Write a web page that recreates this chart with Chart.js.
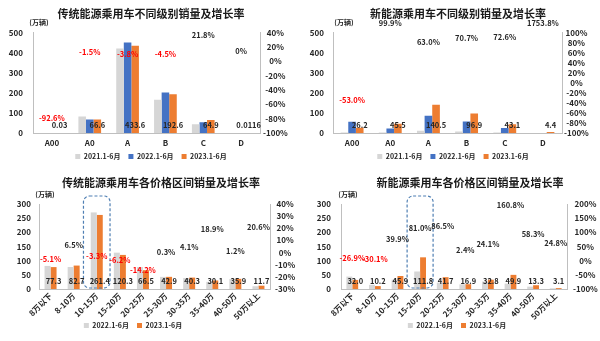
<!DOCTYPE html>
<html><head><meta charset="utf-8">
<script src="https://cdn.jsdelivr.net/npm/chart.js@4.4.1/dist/chart.umd.min.js"></script>
<style>
html,body{margin:0;padding:0;background:#fff;}
#wrap{position:relative;width:600px;height:341px;overflow:hidden;background:#fff;}
.c{position:absolute;}
</style></head><body>
<div id="wrap">
<div class="c" style="left:0;top:0;width:300px;height:170px"><canvas id="c1"></canvas></div>
<div class="c" style="left:300px;top:0;width:300px;height:170px"><canvas id="c2"></canvas></div>
<div class="c" style="left:0;top:170px;width:300px;height:171px"><canvas id="c3"></canvas></div>
<div class="c" style="left:300px;top:170px;width:300px;height:171px"><canvas id="c4"></canvas></div>
</div>
<script>
// ---------- DATA ----------
const classCategories = ['A00', 'A0', 'A', 'B', 'C', 'D'];
const iceClass2021 = [0.3, 82, 420, 165, 44, 0.01];
const iceClass2022 = [0.4, 67.6, 450.7, 201.7, 53.3, 0.0116];
const iceClass2023 = [0.03, 66.6, 433.6, 192.6, 64.9, 0.0116];
const iceClassGrowth = [-92.6, -1.5, -3.8, -4.5, 21.8, 0];

const nevClass2021 = [2, 2, 11, 8, 2, 0];
const nevClass2022 = [55.7, 22.8, 86.2, 56.8, 25.0, 0.24];
const nevClass2023 = [26.2, 45.5, 140.5, 96.9, 43.1, 4.4];
const nevClassGrowth = [-53.0, 99.9, 63.0, 70.7, 72.6, 1753.8];

const priceCategories = ['8万以下', '8-10万', '10-15万', '15-20万', '20-25万', '25-30万', '30-35万', '35-40万', '40-50万', '50万以上'];
const icePrice2022 = [81.5, 77.7, 270.3, 128.3, 77.5, 42.8, 38.7, 25.3, 35.5, 9.7];
const icePrice2023 = [77.3, 82.7, 261.4, 120.3, 66.5, 42.9, 40.3, 30.1, 35.9, 11.7];
const icePriceGrowth = [-5.1, 6.5, -3.3, -6.2, -14.2, 0.3, 4.1, 18.9, 1.2, 20.6];

const nevPrice2022 = [43.8, 14.6, 32.8, 61.8, 22.4, 16.5, 26.4, 19.1, 8.4, 2.5];
const nevPrice2023 = [32.0, 10.2, 45.9, 111.8, 41.7, 16.9, 32.8, 49.9, 13.3, 3.1];
const nevPriceGrowth = [-26.9, -30.1, 39.9, 81.0, 86.5, 2.4, 24.1, 160.8, 58.3, 24.8];

const legend2021 = '2021.1-6月', legend2022 = '2022.1-6月', legend2023 = '2023.1-6月';

// ---------- STYLE ----------
const GREY = '#d6d6d6', BLUE = '#4472c4', ORANGE = '#ed7d31', RED = '#ff0000', TXT = '#262626';
const FAM = '"Noto Sans CJK SC","Noto Sans",sans-serif';
Chart.defaults.font.family = FAM;
Chart.defaults.color = TXT;

function fmtVal(v) { return v >= 1 ? v.toFixed(1) : String(v); }
function fmtPct(v) { return v === 0 ? '0%' : v.toFixed(1) + '%'; }

const labelPlugin = {
  id: 'labelPlugin',
  afterLayout(chart, args, o) {
    if (o.titleShift && chart.titleBlock) { chart.titleBlock.left += o.titleShift; chart.titleBlock.right += o.titleShift; }
    if (o.legendShift && chart.legend) { chart.legend.left += o.legendShift; chart.legend.right += o.legendShift; }
  },
  afterDatasetsDraw(chart, args, o) {
    const ctx = chart.ctx, area = chart.chartArea;
    ctx.save();
    ctx.textAlign = 'center';
    ctx.textBaseline = 'middle';
    if (o.highlight) {
      const xs = chart.scales.x;
      const idx = chart.data.labels.indexOf(o.highlight);
      const cw = xs.width / chart.data.labels.length;
      const cx = xs.getPixelForValue(idx);
      const l = cx - cw * 0.575, r = cx + cw * 0.575, t = area.top - 8, b = area.bottom - 1;
      ctx.setLineDash([3, 2]);
      ctx.strokeStyle = '#4f7fb3';
      ctx.lineWidth = 1.2;
      ctx.beginPath();
      ctx.roundRect(l, t, r - l, b - t, 6);
      ctx.stroke();
      ctx.setLineDash([]);
    }
    ctx.font = 'bold 7px ' + FAM;
    ctx.fillStyle = TXT;
    ctx.fillText('(万辆)', area.left + o.unitDx, area.top - 10);
    const vi = o.valueDataset;
    const vals = chart.data.datasets[vi].data;
    ctx.font = 'bold 7.5px ' + FAM;
    chart.getDatasetMeta(vi).data.forEach((el, i) => {
      ctx.fillText(fmtVal(vals[i]), el.x, area.bottom - 8);
    });
    const gi = chart.data.datasets.length - 1;
    const gv = chart.data.datasets[gi].data;
    chart.getDatasetMeta(gi).data.forEach((el, i) => {
      const y = Math.max(el.y, area.top) - o.growthDy;
      ctx.fillStyle = gv[i] < 0 ? RED : TXT;
      ctx.fillText(fmtPct(gv[i]), el.x, y);
    });
    ctx.restore();
  }
};

function build(id, c) {
  const datasets = c.series.map(s => ({
    label: s.label, data: s.data, backgroundColor: s.color, borderWidth: 0,
    categoryPercentage: c.catPct, barPercentage: 1.0, yAxisID: 'y', order: 1
  }));
  datasets.push({ type: 'line', label: '增长率', data: c.growth, yAxisID: 'y1',
    showLine: false, pointRadius: 0, pointHoverRadius: 0, order: 0 });
  const tickFont = { size: 8, weight: 'bold' };
  new Chart(document.getElementById(id), {
    type: 'bar',
    data: { labels: c.labels, datasets },
    plugins: [labelPlugin],
    options: {
      responsive: true, maintainAspectRatio: false, animation: false, devicePixelRatio: 1,
      layout: { padding: { left: 0, right: 0, top: 0, bottom: c.padBottom } },
      events: [],
      plugins: {
        title: { display: true, text: c.title, color: '#1a1a1a',
          font: { size: 11, weight: 'bold' }, padding: { top: c.titleTop, bottom: c.titleBottom } },
        legend: { display: true, position: 'bottom',
          labels: { boxWidth: 5, boxHeight: 5, padding: 8, color: TXT,
            font: { size: 7, weight: 'bold' },
            filter: it => it.datasetIndex < c.series.length } },
        tooltip: { enabled: false },
        labelPlugin: { titleShift: c.titleShift, legendShift: c.legendShift, highlight: c.highlight,
          unitDx: c.unitDx, valueDataset: c.series.length - 1, growthDy: c.growthDy }
      },
      scales: {
        x: {
          grid: { display: false, drawTicks: false },
          border: { display: true, color: '#bfbfbf' },
          ticks: { font: tickFont, color: TXT, padding: c.xPad, autoSkip: false,
            minRotation: c.rot, maxRotation: c.rot },
          afterFit: s => { s.height = c.xH; s._computeLabelArea = () => undefined; }
        },
        y: {
          position: 'left', min: 0, max: c.yMax,
          grid: { display: false, drawTicks: false },
          border: { display: true, color: '#bfbfbf' },
          ticks: { stepSize: c.yStep, font: tickFont, color: TXT, padding: c.lPad, autoSkip: false },
          afterFit: s => { s.width = c.leftW; }
        },
        y1: {
          position: 'right', min: c.rMin, max: c.rMax,
          grid: { display: false, drawTicks: false },
          border: { display: true, color: '#bfbfbf' },
          ticks: { stepSize: c.rStep, font: tickFont, color: TXT, padding: c.rPad, crossAlign: 'center',
            autoSkip: false, callback: v => v + '%' },
          afterFit: s => { s.width = c.rightW; }
        }
      }
    }
  });
}

build('c1', {
  title: '传统能源乘用车不同级别销量及增长率', labels: classCategories,
  series: [{ label: legend2021, data: iceClass2021, color: GREY },
           { label: legend2022, data: iceClass2022, color: BLUE },
           { label: legend2023, data: iceClass2023, color: ORANGE }],
  growth: iceClassGrowth, catPct: 0.6,
  yMax: 500, yStep: 100, rMin: -100, rMax: 40, rStep: 20,
  leftW: 33, rightW: 40, xH: 12, rot: 0, xPad: 5, lPad: 10, rPad: 3,
  titleTop: 7.4, titleBottom: 11.9, padBottom: 0, titleShift: 1, legendShift: 1,
  unitDx: 6, growthDy: 10, highlight: null
});
build('c2', {
  title: '新能源乘用车不同级别销量及增长率', labels: classCategories,
  series: [{ label: legend2021, data: nevClass2021, color: GREY },
           { label: legend2022, data: nevClass2022, color: BLUE },
           { label: legend2023, data: nevClass2023, color: ORANGE }],
  growth: nevClassGrowth, catPct: 0.6,
  yMax: 500, yStep: 100, rMin: -100, rMax: 100, rStep: 20,
  leftW: 33, rightW: 38, xH: 12, rot: 0, xPad: 5, lPad: 9, rPad: 2,
  titleTop: 7.4, titleBottom: 11.9, padBottom: 0, titleShift: 8, legendShift: 3,
  unitDx: 11, growthDy: 9, highlight: null
});
build('c3', {
  title: '传统能源乘用车各价格区间销量及增长率', labels: priceCategories,
  series: [{ label: legend2022, data: icePrice2022, color: GREY },
           { label: legend2023, data: icePrice2023, color: ORANGE }],
  growth: icePriceGrowth, catPct: 0.52,
  yMax: 300, yStep: 50, rMin: -30, rMax: 40, rStep: 10,
  leftW: 39, rightW: 30, xH: 25, rot: 45, xPad: 2, lPad: 8, rPad: 5,
  titleTop: 6.4, titleBottom: 14.4, padBottom: 2, titleShift: 11, legendShift: -17,
  unitDx: 6, growthDy: 0, highlight: '10-15万'
});
build('c4', {
  title: '新能源乘用车各价格区间销量及增长率', labels: priceCategories,
  series: [{ label: legend2022, data: nevPrice2022, color: GREY },
           { label: legend2023, data: nevPrice2023, color: ORANGE }],
  growth: nevPriceGrowth, catPct: 0.52,
  yMax: 300, yStep: 50, rMin: -100, rMax: 200, rStep: 50,
  leftW: 41, rightW: 33, xH: 25, rot: 45, xPad: 2, lPad: 10, rPad: 6,
  titleTop: 6.4, titleBottom: 14.4, padBottom: 2, titleShift: 20, legendShift: 7,
  unitDx: 7, growthDy: 10, highlight: '15-20万'
});
</script>
</body></html>
